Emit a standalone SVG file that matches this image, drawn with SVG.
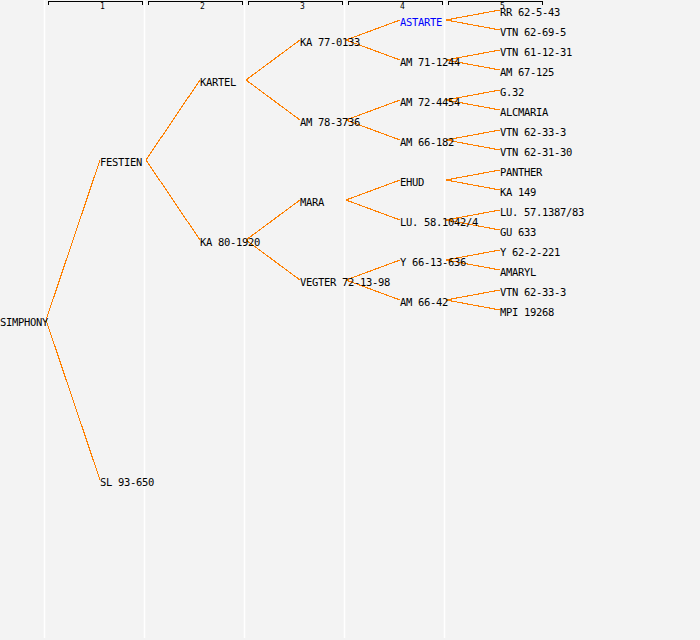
<svg xmlns="http://www.w3.org/2000/svg" width="700" height="640" viewBox="0 0 700 640">
<style>
.bg{fill:#f3f3f3}
.col{stroke:#ffffff;stroke-width:1.5}
.br{fill:none;stroke:#000000;stroke-width:1;shape-rendering:crispEdges}
.num{font-family:"DejaVu Sans Mono","Liberation Mono",monospace;font-size:8px;fill:#000}
.t{font-family:"DejaVu Sans Mono","Liberation Mono",monospace;font-size:10.5px;letter-spacing:-0.32px;fill:#000}
.blue{fill:#0000ff}
.c line{stroke:#ff8000;stroke-width:1.1;shape-rendering:crispEdges}
</style>
<rect class="bg" x="0" y="0" width="700" height="640"/>
<g id="columns">
<line class="col" x1="44.5" y1="0" x2="44.5" y2="638"/>
<line class="col" x1="144.5" y1="0" x2="144.5" y2="638"/>
<line class="col" x1="244.5" y1="0" x2="244.5" y2="638"/>
<line class="col" x1="344.5" y1="0" x2="344.5" y2="638"/>
<line class="col" x1="444.5" y1="0" x2="444.5" y2="638"/>
</g>
<g id="header">
<path class="br" d="M48.5,4.5V1.5H142.5V4.5"/>
<path class="br" d="M148.5,4.5V1.5H242.5V4.5"/>
<path class="br" d="M248.5,4.5V1.5H342.5V4.5"/>
<path class="br" d="M348.5,4.5V1.5H442.5V4.5"/>
<path class="br" d="M448.5,4.5V1.5H542.5V4.5"/>
<text class="num" x="100" y="8.5">1</text>
<text class="num" x="200" y="8.5">2</text>
<text class="num" x="300" y="8.5">3</text>
<text class="num" x="400" y="8.5">4</text>
<text class="num" x="500" y="8.5">5</text>
</g>
<g id="connectors" class="c">
<line x1="46" y1="320" x2="100" y2="160"/>
<line x1="46" y1="320" x2="100" y2="480"/>
<line x1="146" y1="160" x2="200" y2="80"/>
<line x1="146" y1="160" x2="200" y2="240"/>
<line x1="246" y1="80" x2="300" y2="40"/>
<line x1="246" y1="80" x2="300" y2="120"/>
<line x1="246" y1="240" x2="300" y2="200"/>
<line x1="246" y1="240" x2="300" y2="280"/>
<line x1="346" y1="40" x2="400" y2="20"/>
<line x1="346" y1="40" x2="400" y2="60"/>
<line x1="346" y1="120" x2="400" y2="100"/>
<line x1="346" y1="120" x2="400" y2="140"/>
<line x1="346" y1="200" x2="400" y2="180"/>
<line x1="346" y1="200" x2="400" y2="220"/>
<line x1="346" y1="280" x2="400" y2="260"/>
<line x1="346" y1="280" x2="400" y2="300"/>
<line x1="446" y1="20" x2="500" y2="10"/>
<line x1="446" y1="20" x2="500" y2="30"/>
<line x1="446" y1="60" x2="500" y2="50"/>
<line x1="446" y1="60" x2="500" y2="70"/>
<line x1="446" y1="100" x2="500" y2="90"/>
<line x1="446" y1="100" x2="500" y2="110"/>
<line x1="446" y1="140" x2="500" y2="130"/>
<line x1="446" y1="140" x2="500" y2="150"/>
<line x1="446" y1="180" x2="500" y2="170"/>
<line x1="446" y1="180" x2="500" y2="190"/>
<line x1="446" y1="220" x2="500" y2="210"/>
<line x1="446" y1="220" x2="500" y2="230"/>
<line x1="446" y1="260" x2="500" y2="250"/>
<line x1="446" y1="260" x2="500" y2="270"/>
<line x1="446" y1="300" x2="500" y2="290"/>
<line x1="446" y1="300" x2="500" y2="310"/>
</g>
<g id="n-simphony"><text class="t" x="0" y="326">SIMPHONY</text></g>
<g id="n-festien"><text class="t" x="100" y="166">FESTIEN</text></g>
<g id="n-sl93650"><text class="t" x="100" y="486">SL 93-650</text></g>
<g id="n-kartel"><text class="t" x="200" y="86">KARTEL</text></g>
<g id="n-ka801920"><text class="t" x="200" y="246">KA 80-1920</text></g>
<g id="n-ka770133"><text class="t" x="300" y="46">KA 77-0133</text></g>
<g id="n-am783736"><text class="t" x="300" y="126">AM 78-3736</text></g>
<g id="n-mara"><text class="t" x="300" y="206">MARA</text></g>
<g id="n-vegter"><text class="t" x="300" y="286">VEGTER 72-13-98</text></g>
<g id="n-astarte"><text class="t blue" x="400" y="26">ASTARTE</text></g>
<g id="n-am711244"><text class="t" x="400" y="66">AM 71-1244</text></g>
<g id="n-am724454"><text class="t" x="400" y="106">AM 72-4454</text></g>
<g id="n-am66182"><text class="t" x="400" y="146">AM 66-182</text></g>
<g id="n-ehud"><text class="t" x="400" y="186">EHUD</text></g>
<g id="n-lu5810424"><text class="t" x="400" y="226">LU. 58.1042/4</text></g>
<g id="n-y6613636"><text class="t" x="400" y="266">Y 66-13-636</text></g>
<g id="n-am6642"><text class="t" x="400" y="306">AM 66-42</text></g>
<g id="n-rr62543"><text class="t" x="500" y="16">RR 62-5-43</text></g>
<g id="n-vtn62695"><text class="t" x="500" y="36">VTN 62-69-5</text></g>
<g id="n-vtn611231"><text class="t" x="500" y="56">VTN 61-12-31</text></g>
<g id="n-am67125"><text class="t" x="500" y="76">AM 67-125</text></g>
<g id="n-g32"><text class="t" x="500" y="96">G.32</text></g>
<g id="n-alcmaria"><text class="t" x="500" y="116">ALCMARIA</text></g>
<g id="n-vtn62333a"><text class="t" x="500" y="136">VTN 62-33-3</text></g>
<g id="n-vtn623130"><text class="t" x="500" y="156">VTN 62-31-30</text></g>
<g id="n-panther"><text class="t" x="500" y="176">PANTHER</text></g>
<g id="n-ka149"><text class="t" x="500" y="196">KA 149</text></g>
<g id="n-lu57138783"><text class="t" x="500" y="216">LU. 57.1387/83</text></g>
<g id="n-gu633"><text class="t" x="500" y="236">GU 633</text></g>
<g id="n-y622221"><text class="t" x="500" y="256">Y 62-2-221</text></g>
<g id="n-amaryl"><text class="t" x="500" y="276">AMARYL</text></g>
<g id="n-vtn62333b"><text class="t" x="500" y="296">VTN 62-33-3</text></g>
<g id="n-mpi19268"><text class="t" x="500" y="316">MPI 19268</text></g>
</svg>
